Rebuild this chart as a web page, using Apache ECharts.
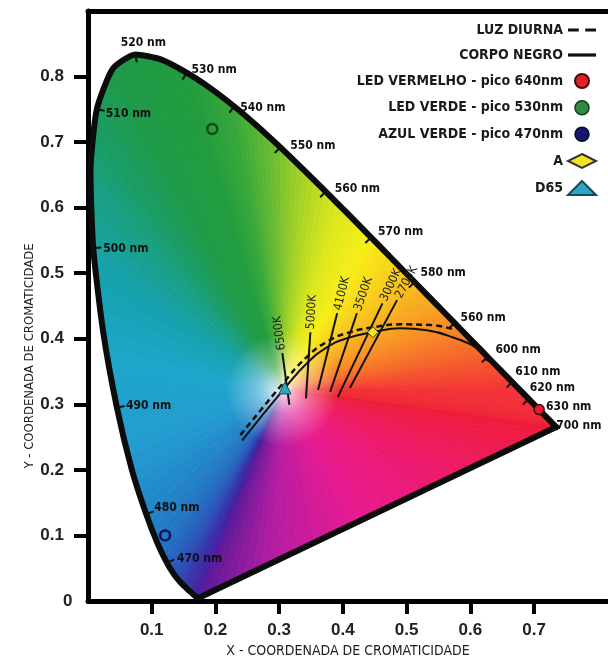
<!DOCTYPE html>
<html>
<head>
<meta charset="utf-8">
<script src="https://cdn.jsdelivr.net/npm/echarts@6/dist/echarts.min.js"></script>
<style>
html, body { margin: 0; padding: 0; background: #fff; }
#chart { width: 608px; height: 666px; }
</style>
</head>
<body>
<div id="chart"></div>
<script>
// locus espectral CIE 1931 (x, y)
var wavelengths = [380,385,390,395,400,405,410,415,420,425,430,435,440,445,450,455,460,465,470,475,480,485,490,495,500,505,510,515,520,525,530,535,540,545,550,555,560,565,570,575,580,585,590,595,600,605,610,615,620,625,630,635,640,645,650,655,660,665,670,700];
var locusX = [0.1741,0.1740,0.1738,0.1736,0.1733,0.1730,0.1726,0.1721,0.1714,0.1703,0.1689,0.1669,0.1644,0.1611,0.1566,0.1510,0.1440,0.1355,0.1241,0.1096,0.0913,0.0687,0.0454,0.0235,0.0082,0.0039,0.0139,0.0389,0.0743,0.1142,0.1547,0.1929,0.2296,0.2658,0.3016,0.3373,0.3731,0.4087,0.4441,0.4788,0.5125,0.5448,0.5752,0.6029,0.6270,0.6482,0.6658,0.6801,0.6915,0.7006,0.7079,0.7140,0.7190,0.7230,0.7260,0.7283,0.7300,0.7311,0.7320,0.7347];
var locusY = [0.0050,0.0050,0.0049,0.0049,0.0048,0.0048,0.0048,0.0048,0.0051,0.0058,0.0069,0.0086,0.0109,0.0138,0.0177,0.0227,0.0297,0.0399,0.0578,0.0868,0.1327,0.2007,0.2950,0.4127,0.5384,0.6548,0.7502,0.8120,0.8338,0.8262,0.8059,0.7816,0.7543,0.7243,0.6923,0.6589,0.6245,0.5896,0.5547,0.5202,0.4866,0.4544,0.4242,0.3965,0.3725,0.3514,0.3340,0.3197,0.3083,0.2993,0.2920,0.2859,0.2809,0.2770,0.2740,0.2717,0.2700,0.2689,0.2680,0.2653];

// marcas de comprimento de onda
var tickWavelengths = [470,480,490,500,510,520,530,540,550,560,570,580,590,600,610,620,630,700];
var tickLabels = ["470 nm","480 nm","490 nm","500 nm","510 nm","520 nm","530 nm","540 nm","550 nm","560 nm","570 nm","580 nm","560 nm","600 nm","610 nm","620 nm","630 nm","700 nm"];

// ponto branco do preenchimento
var whitePoint = [0.305, 0.322];

// corpo negro e luz diurna
var blackbodyX = [0.242,0.309,0.344,0.375,0.407,0.447,0.490,0.532,0.573,0.615,0.626];
var blackbodyY = [0.245,0.325,0.363,0.387,0.401,0.410,0.416,0.413,0.402,0.383,0.366];
var daylightX = [0.239,0.306,0.341,0.374,0.411,0.451,0.490,0.537,0.571];
var daylightY = [0.253,0.332,0.370,0.395,0.410,0.418,0.422,0.421,0.415];

// isotermas (ponto de baixo -> ponto de cima)
var isoLabels = ["6500K","5000K","4100K","3500K","3000K","2700K"];
var isoX1 = [0.316,0.342,0.361,0.380,0.392,0.411];
var isoY1 = [0.299,0.309,0.322,0.319,0.311,0.325];
var isoX2 = [0.305,0.349,0.391,0.422,0.462,0.485];
var isoY2 = [0.378,0.410,0.439,0.439,0.454,0.459];

// fontes de luz
var ledRed = [[0.708, 0.292]];
var ledGreen = [[0.195, 0.720]];
var ledBlue = [[0.121, 0.100]];
var illumA = [[0.447, 0.410]];
var illumD65 = [[0.309, 0.325]];

var xTicks = [0.1,0.2,0.3,0.4,0.5,0.6,0.7];
var yTicks = [0.1,0.2,0.3,0.4,0.5,0.6,0.7,0.8];
var yLabels = [0,0.1,0.2,0.3,0.4,0.5,0.6,0.7,0.8];

// ---- estilos ----
var fillStops = [
    [380,"#5c1a98"],[440,"#4424a4"],[455,"#3434ac"],[465,"#2a52b8"],[472,"#246cc0"],[480,"#2286c8"],
    [487,"#239cd0"],[493,"#1ea6cc"],[498,"#17a2b2"],[503,"#18a08c"],[508,"#1a9c66"],[515,"#1e9a48"],
    [530,"#209c3c"],[540,"#38a83a"],[548,"#6abc32"],[555,"#a4d226"],[563,"#dde81c"],[570,"#f6ee18"],
    [577,"#f8cc1c"],[585,"#f8a422"],[594,"#f77a28"],[603,"#f5522e"],[615,"#f13036"],[700,"#ee1c3a"]
];
var purpleStops = [[0,"#ee1c3a"],[0.3,"#ee1a6c"],[0.55,"#e81a90"],[0.8,"#b41ca2"],[1,"#5c1a98"]];
var whiteColor = "#fbf7f8";
var labelOffsets = {
    470:[10,-4],480:[8,-6],490:[9,-2],500:[10,1],510:[9,5],520:[8,-12],
    530:[5,-3],540:[6,1],550:[10,-1],560:[9,-3],570:[7,-5],580:[6,-9],590:[6,-5],
    600:[8,-7],610:[3,-10],620:[1,-11],630:[7,-3],700:[0,-1]
};
var condFont = "'DejaVu Sans Condensed', 'Liberation Sans', sans-serif";

function hexToRgb (h) {
    return [parseInt(h.substr(1,2),16), parseInt(h.substr(3,2),16), parseInt(h.substr(5,2),16)];
}
function mixRgb (a, b, t) {
    return [a[0]+(b[0]-a[0])*t, a[1]+(b[1]-a[1])*t, a[2]+(b[2]-a[2])*t];
}
function rgbStr (c) {
    return "rgb(" + Math.round(c[0]) + "," + Math.round(c[1]) + "," + Math.round(c[2]) + ")";
}
function stopRgb (stops, v) {
    for (var i = 0; i < stops.length-1; i++) {
        if (v <= stops[i+1][0]) {
            var t = (v - stops[i][0]) / (stops[i+1][0] - stops[i][0]);
            return mixRgb(hexToRgb(stops[i][1]), hexToRgb(stops[i+1][1]), Math.max(0, Math.min(1, t)));
        }
    }
    return hexToRgb(stops[stops.length-1][1]);
}

function renderFill (params, api) {
    var w = api.coord([api.value(0), api.value(1)]);
    var pts = locusX.map(function (x, i) { return api.coord([x, locusY[i]]); });
    var white = hexToRgb(whiteColor);
    var children = [];
    function tri (a, b, c) {
        var grad = new echarts.graphic.RadialGradient(w[0], w[1], 80, [
            {offset: 0, color: whiteColor},
            {offset: 0.08, color: rgbStr(mixRgb(c, white, 0.78))},
            {offset: 0.3, color: rgbStr(mixRgb(c, white, 0.4))},
            {offset: 0.7, color: rgbStr(c)},
            {offset: 1, color: rgbStr(c)}
        ], true);
        children.push({
            type: "polygon",
            shape: {points: [w, a, b]},
            style: {fill: grad, stroke: grad, lineWidth: 0.8}
        });
    }
    function edge (a, b, colorAt, n) {
        for (var k = 0; k < n; k++) {
            var p1 = [a[0]+(b[0]-a[0])*k/n, a[1]+(b[1]-a[1])*k/n];
            var p2 = [a[0]+(b[0]-a[0])*(k+1)/n, a[1]+(b[1]-a[1])*(k+1)/n];
            tri(p1, p2, colorAt((k+0.5)/n));
        }
    }
    for (var i = 0; i < pts.length-1; i++) {
        (function (i) {
            var w1 = wavelengths[i], w2 = wavelengths[i+1];
            edge(pts[i], pts[i+1], function (t) { return stopRgb(fillStops, w1 + (w2-w1)*t); }, 4);
        })(i);
    }
    // linha das púrpuras
    edge(pts[pts.length-1], pts[0], function (t) { return stopRgb(purpleStops, t); }, 40);
    return {type: "group", children: children};
}

function renderTicks (params, api) {
    var wl = api.value(0);
    var i = wavelengths.indexOf(wl);
    var p = api.coord([locusX[i], locusY[i]]);
    var prev = api.coord([locusX[Math.max(0,i-1)], locusY[Math.max(0,i-1)]]);
    var next = api.coord([locusX[Math.min(wavelengths.length-1,i+1)], locusY[Math.min(wavelengths.length-1,i+1)]]);
    var tx = next[0]-prev[0], ty = next[1]-prev[1];
    var tl = Math.sqrt(tx*tx+ty*ty) || 1;
    var nx = -ty/tl, ny = tx/tl;
    var w = api.coord(whitePoint);
    if ((w[0]-p[0])*nx + (w[1]-p[1])*ny < 0) { nx = -nx; ny = -ny; }
    var off = labelOffsets[wl] || [8,-5];
    var children = [];
    if (wl !== 630 && wl !== 700) {
        children.push({
            type: "line",
            shape: {x1: p[0]-nx*2, y1: p[1]-ny*2, x2: p[0]+nx*8, y2: p[1]+ny*8},
            style: {stroke: "#111", lineWidth: 2}
        });
    }
    children.push({
        type: "text",
        x: p[0]+off[0], y: p[1]+off[1],
        style: {
            text: tickLabels[params.dataIndex],
            fill: "#111",
            font: "bold 12px " + condFont,
            align: wl === 520 ? "center" : "left",
            verticalAlign: "middle"
        }
    });
    return {type: "group", children: children};
}

function renderIso (params, api) {
    var p1 = api.coord([api.value(0), api.value(1)]);
    var p2 = api.coord([api.value(2), api.value(3)]);
    var dx = p2[0]-p1[0], dy = p2[1]-p1[1];
    var l = Math.sqrt(dx*dx+dy*dy);
    var ang = Math.atan2(p1[1]-p2[1], p2[0]-p1[0]);
    return {
        type: "group",
        children: [{
            type: "line",
            shape: {x1: p1[0], y1: p1[1], x2: p2[0], y2: p2[1]},
            style: {stroke: "#111", lineWidth: 2}
        }, {
            type: "text",
            x: p2[0] + dx/l*3, y: p2[1] + dy/l*3,
            rotation: ang,
            style: {
                text: isoLabels[params.dataIndex],
                fill: "#222",
                font: "12px " + condFont,
                align: "left",
                verticalAlign: "middle"
            }
        }]
    };
}

var locusData = locusX.map(function (x, i) { return [x, locusY[i]]; });
var last = locusX.length - 1;
var purpleData = [[locusX[last], locusY[last]], [locusX[0], locusY[0]]];

var chart = echarts.init(document.getElementById("chart"));
var option = {
    animation: false,
    grid: {left: 88, right: 0, top: 11, bottom: 65},
    legend: {
        orient: "vertical",
        right: 6,
        top: 18,
        align: "right",
        itemWidth: 28,
        itemHeight: 14,
        itemGap: 11,
        textStyle: {fontFamily: condFont, fontSize: 14, fontWeight: "bold", color: "#1a1a1a"},
        data: [
            {name: "LUZ DIURNA", icon: "path://M0,6h10v3h-10z M16,6h10v3h-10z", itemStyle: {color: "#111"}},
            {name: "CORPO NEGRO", icon: "path://M0,6h26v3h-26z", itemStyle: {color: "#111"}},
            {name: "LED VERMELHO - pico 640nm"},
            {name: "LED VERDE - pico 530nm", itemStyle: {color: "#2e8b44", borderColor: "#163a1a", borderWidth: 1.5}},
            {name: "AZUL VERDE - pico 470nm", itemStyle: {color: "#16166a", borderColor: "#0a0a30", borderWidth: 1.5}},
            {name: "A"},
            {name: "D65"}
        ]
    },
    xAxis: [{
        type: "value",
        min: 0,
        max: 0.816,
        interval: 0.1,
        name: "X - COORDENADA DE CROMATICIDADE",
        nameLocation: "middle",
        nameGap: 43,
        nameMoveOverlap: false,
        nameTextStyle: {fontFamily: condFont, fontSize: 14, color: "#222"},
        axisLine: {lineStyle: {color: "#000", width: 5}},
        axisTick: {customValues: xTicks, length: 13, lineStyle: {color: "#000", width: 4}},
        axisLabel: {customValues: xTicks, margin: 21, fontFamily: "Liberation Sans", fontWeight: "bold", fontSize: 17, color: "#222"},
        splitLine: {show: false}
    }, {
        type: "value",
        position: "top",
        min: 0,
        max: 0.816,
        axisLine: {show: true, lineStyle: {color: "#000", width: 5}},
        axisTick: {show: false},
        axisLabel: {show: false},
        splitLine: {show: false}
    }],
    yAxis: {
        type: "value",
        min: 0,
        max: 0.9,
        interval: 0.1,
        name: "Y - COORDENADA DE CROMATICIDADE",
        nameLocation: "middle",
        nameGap: 52,
        nameMoveOverlap: false,
        nameTextStyle: {fontFamily: condFont, fontSize: 13, color: "#222", padding: [0, 100, 0, 0]},
        axisLine: {lineStyle: {color: "#000", width: 5}},
        axisTick: {customValues: yTicks, length: 14, lineStyle: {color: "#000", width: 4}},
        axisLabel: {
            customValues: yLabels,
            margin: 24,
            fontFamily: "Liberation Sans",
            fontWeight: "bold",
            fontSize: 17,
            color: "#222",
            formatter: function (v) { return v === 0 ? "{z|0}" : String(v); },
            rich: {z: {width: 1, align: "left", fontFamily: "Liberation Sans", fontWeight: "bold", fontSize: 17, color: "#222"}}
        },
        splitLine: {show: false}
    },
    series: [{
        type: "custom",
        name: "fill",
        data: [whitePoint],
        renderItem: renderFill,
        z: 1,
        silent: true
    }, {
        type: "line",
        name: "locus",
        data: locusData,
        smooth: 0.2,
        showSymbol: false,
        lineStyle: {color: "#0c0c0c", width: 6, join: "round", cap: "round"},
        z: 3,
        silent: true
    }, {
        type: "line",
        name: "purpuras",
        data: purpleData,
        showSymbol: false,
        lineStyle: {color: "#0c0c0c", width: 6, cap: "round"},
        z: 3,
        silent: true
    }, {
        type: "custom",
        name: "ticks",
        data: tickWavelengths.map(function (w) { return [w]; }),
        renderItem: renderTicks,
        z: 4,
        silent: true
    }, {
        type: "line",
        name: "LUZ DIURNA",
        data: daylightX.map(function (x, i) { return [x, daylightY[i]]; }),
        smooth: true,
        showSymbol: false,
        symbol: "none",
        lineStyle: {color: "#111", width: 2.5, type: [6, 4]},
        itemStyle: {color: "#111"},
        z: 5
    }, {
        type: "line",
        name: "CORPO NEGRO",
        data: blackbodyX.map(function (x, i) { return [x, blackbodyY[i]]; }),
        smooth: true,
        showSymbol: false,
        symbol: "none",
        lineStyle: {color: "#111", width: 2},
        itemStyle: {color: "#111"},
        z: 5
    }, {
        type: "custom",
        name: "isotermas",
        data: isoX1.map(function (x, i) { return [x, isoY1[i], isoX2[i], isoY2[i]]; }),
        renderItem: renderIso,
        z: 5,
        silent: true
    }, {
        type: "scatter",
        name: "LED VERMELHO - pico 640nm",
        data: ledRed,
        symbol: "circle",
        symbolSize: 10,
        itemStyle: {color: "#e0202a", borderColor: "#4a0a0a", borderWidth: 1.5, opacity: 1},
        z: 6
    }, {
        type: "scatter",
        name: "LED VERDE - pico 530nm",
        data: ledGreen,
        symbol: "circle",
        symbolSize: 10,
        itemStyle: {color: "rgba(0,0,0,0)", borderColor: "#144a18", borderWidth: 2.5, opacity: 1},
        z: 6
    }, {
        type: "scatter",
        name: "AZUL VERDE - pico 470nm",
        data: ledBlue,
        symbol: "circle",
        symbolSize: 10,
        itemStyle: {color: "rgba(0,0,0,0)", borderColor: "#12125a", borderWidth: 2.5, opacity: 1},
        z: 6
    }, {
        type: "scatter",
        name: "A",
        data: illumA,
        symbol: "diamond",
        symbolSize: 11,
        itemStyle: {color: "#f4e424", borderColor: "#333", borderWidth: 1, opacity: 1},
        z: 6
    }, {
        type: "scatter",
        name: "D65",
        data: illumD65,
        symbol: "triangle",
        symbolSize: 12,
        itemStyle: {color: "#2aa8c4", borderColor: "#1a4a5a", borderWidth: 1, opacity: 1},
        z: 6
    }]
};
chart.setOption(option);
</script>
</body>
</html>
